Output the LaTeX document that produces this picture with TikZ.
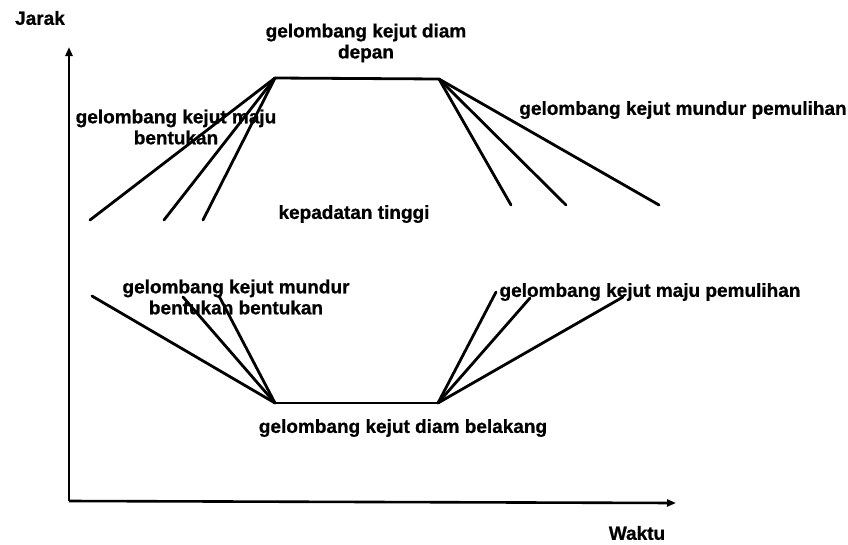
\documentclass[tikz,border=0pt]{standalone}
\usepackage{fontspec}
\setmainfont{Liberation Sans}[BoldFeatures={FakeBold=0.8}]
\usetikzlibrary{arrows.meta}
\begin{document}
\begin{tikzpicture}[x=1pt,y=-1pt,
  lbl/.style={font=\bfseries\fontsize{19}{21}\selectfont, inner sep=0pt, align=center},
  wave/.style={line width=2.8pt, line cap=round},
  axis/.style={line width=2.6pt, -{Triangle[length=9pt,width=7pt]}}]
\useasboundingbox (0,0) rectangle (848,544);
% axes
\coordinate (O) at (69,501);
\coordinate (Ytip) at (69,47);
\coordinate (Xtip) at (676,503);
\draw[axis] (O) -- (Ytip);
\draw[axis] (O) -- (Xtip);
\node[lbl] (jarak) at (40,18) {Jarak};
\node[lbl] (waktu) at (637,533) {Waktu};
% top plateau
\coordinate (TL) at (275,78);
\coordinate (TR) at (439,79);
\draw[wave] (TL) -- (TR);
\coordinate (tl1) at (90,220);
\coordinate (tl2) at (164,220);
\coordinate (tl3) at (203,220);
\draw[wave] (TL) -- (tl1);
\draw[wave] (TL) -- (tl2);
\draw[wave] (TL) -- (tl3);
\coordinate (tr1) at (511,205);
\coordinate (tr2) at (566,205);
\coordinate (tr3) at (659,205);
\draw[wave] (TR) -- (tr1);
\draw[wave] (TR) -- (tr2);
\draw[wave] (TR) -- (tr3);
% bottom plateau
\coordinate (BL) at (275,403);
\coordinate (BR) at (438,403);
\draw[wave] (BL) -- (BR);
\coordinate (bl1) at (92,296);
\coordinate (bl2) at (183,297);
\coordinate (bl3) at (219,296);
\draw[wave] (BL) -- (bl1);
\draw[wave] (BL) -- (bl2);
\draw[wave] (BL) -- (bl3);
\coordinate (br1) at (496,292);
\coordinate (br2) at (530,298);
\coordinate (br3) at (623,297);
\draw[wave] (BR) -- (br1);
\draw[wave] (BR) -- (br2);
\draw[wave] (BR) -- (br3);
% labels
\node[lbl] (diamdepan) at (366,43) {gelombang kejut diam\\depan};
\node[lbl] (majubentukan) at (176,127) {gelombang kejut maju\\bentukan};
\node[lbl] (padat) at (354,214) {kepadatan tinggi};
\node[lbl] (mundurpem) at (683,110) {gelombang kejut mundur pemulihan};
\node[lbl] (mundurbent) at (236,297) {gelombang kejut mundur\\bentukan bentukan};
\node[lbl] (majupem) at (650,292) {gelombang kejut maju pemulihan};
\node[lbl] (diambelakang) at (403,428) {gelombang kejut diam belakang};
\end{tikzpicture}
\end{document}
